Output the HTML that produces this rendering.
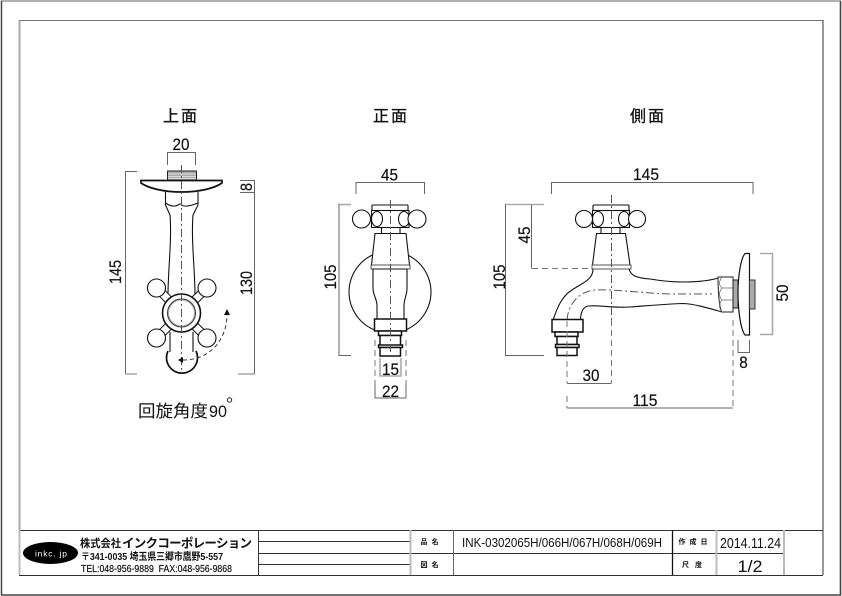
<!DOCTYPE html>
<html><head><meta charset="utf-8"><style>
html,body{margin:0;padding:0;background:#fff;width:842px;height:596px;overflow:hidden}
svg{display:block}
text{font-family:"Liberation Sans","Noto Sans CJK JP",sans-serif;fill:#111}
.d{font-size:17px;text-anchor:middle;stroke:#111;stroke-width:.2}
.h{font-size:16px;text-anchor:middle;stroke:#111;stroke-width:.3}
.o{fill:none;stroke:#111;stroke-width:1.1}
.f{fill:#fff;stroke:#111;stroke-width:1.1}
.t{fill:none;stroke:#111;stroke-width:1.7}
.m{fill:none;stroke:#666;stroke-width:1}
.g{fill:none;stroke:#aaa;stroke-width:1.6}
.c{fill:none;stroke:#555;stroke-width:1;stroke-dasharray:8 3 2 3}
.e{fill:none;stroke:#777;stroke-width:1;stroke-dasharray:6 4}
.s{font-size:7px;font-weight:bold;text-anchor:middle}
</style></head><body>
<svg width="842" height="596" viewBox="0 0 842 596" xmlns="http://www.w3.org/2000/svg">
<!-- outer frame -->
<path d="M1.500 595V1H841" fill="none" stroke="#999" stroke-width="1.500"/>
<path d="M1.500 595V1" fill="none" stroke="#444" stroke-width="1.300"/>
<path d="M840.500 1V595H1" fill="none" stroke="#444" stroke-width="1.600"/>
<path d="M19.500 530V20.500" fill="none" stroke="#aaa" stroke-width="2"/>
<path d="M19 20.500H823" fill="none" stroke="#777" stroke-width="1"/>
<path d="M823 20V575" fill="none" stroke="#555" stroke-width="1.200"/>

<!-- headings -->
<text x="180" y="121.500" class="h" textLength="34">上面</text>
<text x="390" y="121.500" class="h" textLength="34">正面</text>
<text x="647" y="121.500" class="h" textLength="34">側面</text>

<!-- TOP VIEW -->
<path class="m" d="M167.500 165V152.500H195.500V165"/>
<text x="181" y="150" class="d" textLength="17" lengthAdjust="spacingAndGlyphs">20</text>
<path class="m" d="M137 171.500H125.500V374"/>
<path class="g" d="M125 374H137"/>
<path class="m" d="M240 180.500H254.500V374"/>
<path class="g" d="M238 374H254"/>
<path class="m" d="M240 192.500H254"/>
<text transform="translate(121,272) rotate(-90)" class="d" textLength="24" lengthAdjust="spacingAndGlyphs">145</text>
<text transform="translate(252,283) rotate(-90)" class="d" textLength="24" lengthAdjust="spacingAndGlyphs">130</text>
<text transform="translate(252,187) rotate(-90)" class="d" textLength="8" lengthAdjust="spacingAndGlyphs">8</text>
<rect x="167.500" y="171" width="29" height="9.500" fill="#aaa" stroke="#222"/>
<path d="M168 174H196M168 176.500H196M168 178.500H196" stroke="#eee" stroke-width=".8"/>
<path class="o" d="M165.500 192V205L170 215C172 240 168 270 168 295M198 192V205L193 215C191 240 195 270 195 295"/>
<path class="o" d="M165.500 203Q173 208 178 205Q181 203 181.500 205Q185 208 198 203"/>
<path class="t" stroke-width="1.300" d="M141 180.500H222V183C215 188 200 192 181.500 192C163 192 148 188 141 183Z" fill="#fff"/>
<path class="o" d="M170 332V352M193 332V352"/>
<path class="t" d="M168 351A15.500 15.500 0 1 0 196 351"/>
<path fill="none" stroke="#111" stroke-width="9" d="M157 288L181.500 313L207 288M157 338L181.500 313L207 338"/>
<path fill="none" stroke="#fff" stroke-width="7" d="M157 288L181.500 313L207 288M157 338L181.500 313L207 338"/>
<circle class="f" cx="156.500" cy="288" r="9"/><circle class="f" cx="207" cy="288" r="9"/>
<circle class="f" cx="156.500" cy="338" r="9"/><circle class="f" cx="207" cy="338" r="9"/>
<circle cx="181.500" cy="313" r="19" fill="#fff" stroke="#111" stroke-width="1.600"/>
<circle cx="181.500" cy="313" r="14" fill="none" stroke="#333"/>
<circle cx="181.500" cy="313" r="13" fill="none" stroke="#999" stroke-width=".8"/>
<path class="c" d="M181.500 165V373"/>
<path fill="none" stroke="#333" stroke-width="1" stroke-dasharray="4 3" d="M183 360C210 360 227 340 227 314"/>
<path fill="#111" d="M178 360L183 357V363ZM227 309L224 315H230Z"/>
<text x="138" y="417" font-size="17" textLength="70" lengthAdjust="spacingAndGlyphs">回旋角度</text>
<text x="209" y="417" font-size="17" textLength="18" lengthAdjust="spacingAndGlyphs">90</text>
<circle cx="229.500" cy="400" r="2.200" fill="none" stroke="#222"/>

<!-- FRONT VIEW -->
<path class="m" d="M356 194V182.500H424.500V194"/>
<text x="389.500" y="180.500" class="d" textLength="17" lengthAdjust="spacingAndGlyphs">45</text>
<path class="g" d="M338 204.500H351"/>
<path class="m" d="M339 204.500V355.500H351"/>
<text transform="translate(336,277) rotate(-90)" class="d" textLength="25" lengthAdjust="spacingAndGlyphs">105</text>
<circle class="o" cx="390" cy="292" r="41"/>
<path d="M372 205H408" stroke="#888" stroke-width="2"/>
<path class="o" d="M372 205V210.500M408 205V210.500"/>
<rect x="371.500" y="210.500" width="37.500" height="17" class="f"/>
<ellipse class="o" cx="377" cy="219" rx="5.500" ry="7.500"/><ellipse class="o" cx="404" cy="219" rx="5.500" ry="7.500"/>
<circle class="f" cx="361.500" cy="219" r="9"/><circle class="f" cx="417" cy="219" r="9"/>
<path class="o" d="M381.500 227.500V233M400 227.500V233"/>
<path class="f" d="M375 233.500H406L409.500 265H371.500Z"/>
<rect x="371" y="265" width="39" height="4" fill="#fff" stroke="#555"/>
<path d="M373 269V288C373 296 377 298 377 306V319H404V306C404 298 407 296 407 288V269Z" class="f"/>
<rect x="374.500" y="319" width="32" height="12" fill="#fff" stroke="#111" stroke-width="1.500"/>
<rect x="378.500" y="331" width="23" height="4.500" fill="#fff" stroke="#111" stroke-width="1.500"/>
<rect x="380" y="335.500" width="20.500" height="10" fill="#fff" stroke="#111" stroke-width="1.500"/>
<rect x="378.500" y="345" width="24" height="2.500" fill="#fff" stroke="#111" stroke-width="1.500"/>
<rect x="380" y="347.500" width="20.500" height="8.500" fill="#fff" stroke="#111" stroke-width="1.500"/>
<path class="c" d="M390.500 200V356"/>
<path class="g" stroke-width="1" d="M380 358V376H401V358"/>
<text x="390.500" y="375" class="d" textLength="17" lengthAdjust="spacingAndGlyphs">15</text>
<path class="e" d="M375 340V385M406 340V385"/>
<path class="m" d="M375 385V398H406V385"/>
<text x="390.500" y="397" class="d" textLength="17" lengthAdjust="spacingAndGlyphs">22</text>

<!-- SIDE VIEW -->
<path class="m" d="M551.500 194V182.500H753V194"/>
<text x="646" y="180" class="d" textLength="26" lengthAdjust="spacingAndGlyphs">145</text>
<path class="g" d="M505 204.500H544"/>
<path class="m" d="M505.500 204.500V355.500H544"/>
<path class="m" d="M531.500 205V268.500"/>
<path class="e" d="M532 268.500H592"/>
<text transform="translate(530,235) rotate(-90)" class="d" textLength="17" lengthAdjust="spacingAndGlyphs">45</text>
<text transform="translate(505,277) rotate(-90)" class="d" textLength="25" lengthAdjust="spacingAndGlyphs">105</text>

<path d="M593 205H629" stroke="#888" stroke-width="2"/>
<path class="o" d="M593 205V210.500M629 205V210.500"/>
<rect x="592.500" y="210.500" width="37" height="17" class="f"/>
<ellipse class="o" cx="598" cy="219" rx="5.500" ry="7.500"/><ellipse class="o" cx="624" cy="219" rx="5.500" ry="7.500"/>
<circle class="f" cx="584" cy="219" r="8.500"/><circle class="f" cx="637" cy="219" r="8.500"/>
<path class="o" d="M601 227.500V233M620 227.500V233"/>
<path class="f" d="M596.500 233.500H625.500L630 265H592.500Z"/>
<rect x="592" y="265" width="39" height="4" fill="#fff" stroke="#555"/>
<path class="o" d="M593 269C593 280 582 283 572 290C562 296 557 308 553.500 319"/>
<path class="o" d="M580.500 319C581 312 583 307 588 306C600 305 612 308 630 307C645 306 665 304 683 303.500C695 304 708 308 722 312"/>
<path class="o" d="M629 269C631 276 637 278 650 279C662 281 675 282 683 282C695 282 710 281 722 277"/>
<path class="c" stroke-width=".9" d="M567 320C568 305 578 292 594 290C615 289 640 293 670 294H712"/>
<path class="c" d="M611.500 195V320"/>
<path class="e" d="M611.500 320V383"/>
<rect x="552" y="319.500" width="31" height="12.500" fill="#fff" stroke="#111" stroke-width="1.500"/>
<rect x="555" y="332" width="23" height="4.500" fill="#fff" stroke="#111" stroke-width="1.500"/>
<rect x="557" y="336.500" width="20" height="8" fill="#fff" stroke="#111" stroke-width="1.500"/>
<rect x="555.500" y="344.500" width="23.500" height="3" fill="#fff" stroke="#111" stroke-width="1.500"/>
<rect x="557" y="347.500" width="20" height="8" fill="#fff" stroke="#111" stroke-width="1.500"/>
<path class="e" d="M567 321V383"/>
<path class="m" d="M567 383.500H611.500"/>
<text x="591" y="381" class="d" textLength="17" lengthAdjust="spacingAndGlyphs">30</text>
<path class="e" d="M567 396V408"/>
<path class="m" d="M567 408H733"/>
<text x="645" y="406" class="d" textLength="25" lengthAdjust="spacingAndGlyphs">115</text>
<!-- wall end -->
<path d="M718 277H733V312H722C719 308 718 290 718 277Z" fill="#fff" stroke="#222" stroke-width="1"/>
<path fill="none" stroke="#666" stroke-width=".7" d="M722 277Q717 284 722 288Q717 294 722 300Q717 306 722 312M722 288H733M722 300H733"/>
<rect x="733" y="280" width="5" height="28" fill="#aaa" stroke="#222"/>
<path d="M745 253.500H749.500V335H745C741 330 738 312 738 293C738 275 741 258 745 253.500Z" fill="#fff" stroke="#111" stroke-width="1.200"/>
<rect x="749.500" y="280" width="5.500" height="29" fill="#aaa" stroke="#333"/>
<path class="g" stroke-width="1.200" d="M760 253.500H772.500V334.500H760"/>
<text transform="translate(788,293) rotate(-90)" class="d" textLength="17" lengthAdjust="spacingAndGlyphs">50</text>
<path class="m" d="M738 340V352.500H749.500V340"/>
<text x="743.500" y="368" class="d" textLength="8.500" lengthAdjust="spacingAndGlyphs">8</text>
<path class="e" d="M733 320V408"/>

<!-- TITLE BLOCK -->
<g fill="none" stroke="#333" stroke-width="1">
<path d="M19 530.500H823M19 575.500H823"/>
<path d="M258.500 530V575"/>
<path d="M259 541.500H410M259 553.500H410M259 564.500H410"/>
<path d="M410 553.500H783"/>
<path d="M672.500 530V575" stroke-width="1.300" stroke="#111"/>
<path d="M453.500 530V575" stroke="#666"/>
</g>
<path d="M19.500 530V575M410.500 530V575M716.500 530V575M784 530V575" stroke="#bbb" stroke-width="2" fill="none"/>
<ellipse cx="50.500" cy="553" rx="27.500" ry="11" fill="#000"/>
<text x="51" y="556.500" font-size="8.500" text-anchor="middle" style="fill:#fff" textLength="32">inkc. jp</text>
<text x="80" y="547" font-size="11" font-weight="bold" textLength="41" lengthAdjust="spacingAndGlyphs">株式会社</text>
<text x="122" y="547.500" font-size="12.500" font-weight="bold" textLength="130" lengthAdjust="spacing">インクコーポレーション</text>
<text x="81" y="560" font-size="10" textLength="142" lengthAdjust="spacingAndGlyphs" font-weight="bold">〒341-0035 埼玉県三郷市鷹野5-557</text>
<text x="81" y="572" font-size="10.500" textLength="151" lengthAdjust="spacingAndGlyphs" stroke="#111" stroke-width=".2">TEL:048-956-9889&#160;&#160;FAX:048-956-9868</text>
<text x="431.500" y="544" class="s" letter-spacing="4">品名</text>
<text x="431.500" y="567" class="s" letter-spacing="4">図名</text>
<text x="462" y="547" font-size="12.500" textLength="200" lengthAdjust="spacingAndGlyphs">INK-0302065H/066H/067H/068H/069H</text>
<text x="695" y="544" class="s" letter-spacing="4">作成日</text>
<text x="695" y="567" class="s" letter-spacing="6">尺度</text>
<text x="750.500" y="548" font-size="15" text-anchor="middle" textLength="61" lengthAdjust="spacingAndGlyphs">2014.11.24</text>
<text x="750" y="572" font-size="17" text-anchor="middle" textLength="25" lengthAdjust="spacingAndGlyphs">1/2</text>
</svg>
</body></html>
